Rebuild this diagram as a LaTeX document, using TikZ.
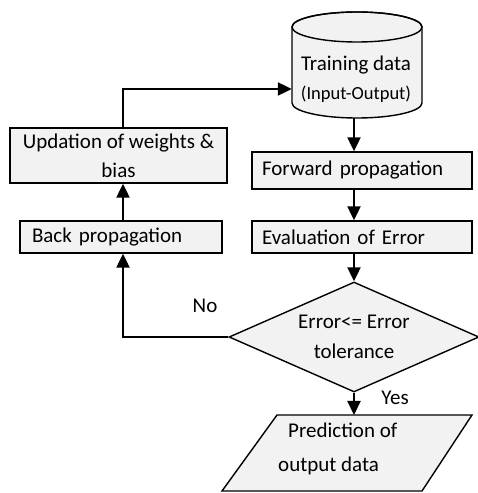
\documentclass[tikz,border=0pt]{standalone}
\usepackage{fontspec}
\setmainfont{Carlito}
\usetikzlibrary{arrows.meta,shapes.geometric,calc}
\definecolor{boxfill}{HTML}{F2F2F2}
\begin{document}
\begin{tikzpicture}[x=1pt,y=1pt,
  font=\fontsize{21}{30}\selectfont,
  shp/.style={draw=black,fill=boxfill,line width=1.4pt},
  box/.style={shp,inner xsep=10pt,inner ysep=0pt,align=left},
  arr/.style={line width=2.2pt,-{Triangle[length=14pt,width=13pt]}},
  lbl/.style={inner sep=0pt,anchor=base}]
\useasboundingbox (0,0) rectangle (477,493);

% cylinder: Training data
\path[shp] (292,466) -- (292,390) arc[start angle=180,end angle=360,x radius=65,y radius=15]
  -- (422,466) arc[start angle=0,end angle=180,x radius=65,y radius=15] -- cycle;
\draw[line width=1.4pt] (357,466) ellipse[x radius=65,y radius=15];
\node (td) [minimum width=130pt,minimum height=107pt,inner sep=0pt] at (357,428.5) {};
\node (tdtext) [lbl,align=center] at (356,393)
  {Training data\\[-1pt]{\fontsize{18.5}{30}\selectfont(Input-Output)}};

% rectangles
\node (up) [shp,align=center,inner sep=0pt,minimum width=217pt,minimum height=55pt]
  at (118.5,337.5) {Updation of weights \&\\[-1pt]bias};
\node (back) [box,inner xsep=12pt,minimum width=202pt,minimum height=32pt,text width=178pt]
  at (121,256) {Back propagation};
\node (fwd) [box,minimum width=220pt,minimum height=37pt,text width=200pt]
  at (362,322.5) {Forward propagation};
\node (eval) [box,minimum width=220pt,minimum height=32pt,text width=200pt]
  at (362,256) {Evaluation of Error};

% decision
\node (dec) [shp,diamond,aspect=2.25,inner sep=0pt,minimum width=250pt,minimum height=110pt,align=center]
  at (354,156) {Error<= Error\\tolerance};

% output parallelogram
\coordinate (p1) at (222,2);
\coordinate (p2) at (422,2);
\coordinate (p3) at (472,78);
\coordinate (p4) at (277,78);
\path[shp] (p1) -- (p2) -- (p3) -- (p4) -- cycle;
\node (pred) [inner sep=0pt,anchor=base west,align=left,font=\fontsize{21}{34}\selectfont]
  at (278,21) {\hspace*{10pt}Prediction of\\output data};

% connectors
\draw[arr] ([xshift=4.5pt]up.north) |- ([yshift=-24.5pt]td.west);
\draw[arr] ([xshift=-3pt]td.south) -- ([xshift=-3pt]td.south |- fwd.north);
\draw[arr] (fwd.south -| dec.north) -- (eval.north -| dec.north);
\draw[arr] (eval.south -| dec.north) -- (dec.north);
\draw[arr] (dec.west) -| ([xshift=2pt]back.south);
\draw[arr] ([xshift=2pt]back.north) -- ([xshift=2pt]back.north |- up.south);
\draw[arr] (dec.south) -- (dec.south |- p4);

% labels
\node (no) [lbl] at (205,180) {No};
\node (yes) [lbl] at (395,88) {Yes};
\end{tikzpicture}
\end{document}
